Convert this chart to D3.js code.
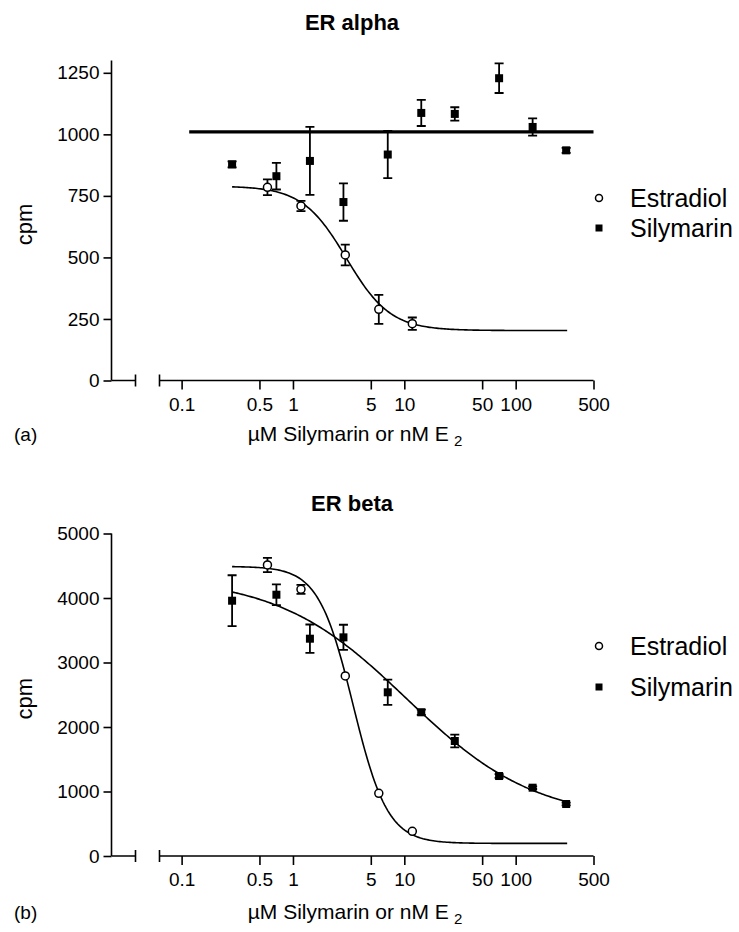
<!DOCTYPE html>
<html>
<head>
<meta charset="utf-8">
<script src="https://cdn.jsdelivr.net/npm/d3@7"></script>
<style>
  html, body { margin: 0; padding: 0; background: #fff; }
  svg { display: block; font-family: "Liberation Sans", Arial, sans-serif; }
</style>
</head>
<body>
<svg id="chart" width="739" height="932"></svg>
<script>
// ---------- shared axis data ----------
const xTickValues = [0.1, 0.5, 1, 5, 10, 50, 100, 500];
const xTickLabels = ["0.1", "0.5", "1", "5", "10", "50", "100", "500"];
const legendLabels = ["Estradiol", "Silymarin"];

// ---------- ER alpha (a) ----------
const alphaTitle = "ER alpha";
const alphaYTicks = [0, 250, 500, 750, 1000, 1250];
const alphaEstradiolX = [0.59, 1.18, 2.95, 5.9, 11.8];
const alphaEstradiolY = [785, 709, 510, 289, 231];
const alphaEstradiolErr = [32, 21, 42, 59, 25];
const alphaSilymarinX = [0.284, 0.71, 1.42, 2.84, 7.1, 14.2, 28.4, 71, 142, 284];
const alphaSilymarinY = [878, 830, 892, 725, 918, 1087, 1083, 1228, 1030, 935];
const alphaSilymarinErr = [12, 54, 138, 76, 96, 53, 27, 60, 35, 10];
// fitted curve parameters: [top, bottom, logEC50, hill]
const alphaEstradiolFit = [790, 203, 0.48, 2.2];
// silymarin: constant fitted line [value, xFrom, xTo]
const alphaSilymarinLine = [1010, 0.117, 500];

// ---------- ER beta (b) ----------
const betaTitle = "ER beta";
const betaYTicks = [0, 1000, 2000, 3000, 4000, 5000];
const betaEstradiolX = [0.59, 1.18, 2.95, 5.9, 11.8];
const betaEstradiolY = [4512, 4134, 2791, 972, 383];
const betaEstradiolErr = [110, 70, 0, 0, 0];
const betaSilymarinX = [0.284, 0.71, 1.42, 2.84, 7.1, 14.2, 28.4, 71, 142, 284];
const betaSilymarinY = [3958, 4051, 3369, 3390, 2538, 2228, 1783, 1240, 1059, 806];
const betaSilymarinErr = [395, 160, 220, 195, 195, 40, 100, 30, 20, 20];
const betaEstradiolFit = [4490, 195, 0.54, 2.8];
const betaSilymarinFit = [4330, 550, 1.02, 0.75];

const fitRange = [0.284, 290];

const svg = d3.select("#chart");

function logistic(p, x) {
  const [top, bottom, logc, h] = p;
  return bottom + (top - bottom) / (1 + Math.pow(10, (Math.log10(x) - logc) * h));
}

function drawPanel(cfg) {
  const g = svg.append("g");
  const axisX = 111.5;
  const breakEnd = 135.5;
  const logStart = 159.5;
  const x = d3.scaleLog().domain([0.0633, 500]).range([logStart, 593.5]);
  const y = d3.scaleLinear().domain([0, cfg.yMax]).range([cfg.y0, cfg.yTop]);

  // title
  g.append("text").attr("x", 352).attr("y", cfg.titleY)
    .attr("text-anchor", "middle").attr("font-weight", "bold")
    .attr("font-size", 22).text(cfg.title);

  // y axis
  const yAxis = d3.axisLeft(y).tickValues(cfg.yTicks).tickSize(8).tickPadding(4)
    .tickFormat(d3.format("d"));
  const ya = g.append("g").attr("transform", `translate(${axisX},0)`).call(yAxis);
  ya.select(".domain").attr("d", `M0,${y(cfg.yMax)}V${cfg.y0}`);
  ya.selectAll("line, path").attr("stroke", "#000").attr("stroke-width", 1.6);
  ya.selectAll("text").attr("font-size", 19).attr("font-family", "Liberation Sans, Arial, sans-serif").attr("fill", "#000");

  // x axis: short left segment (break)
  g.append("path").attr("d", `M${axisX},${cfg.y0}H${breakEnd}M${breakEnd},${cfg.y0 - 6}V${cfg.y0 + 6}`)
    .attr("stroke", "#000").attr("stroke-width", 1.6).attr("fill", "none");
  // x axis: log part
  const xAxis = d3.axisBottom(x).tickValues(xTickValues).tickSize(9).tickPadding(8)
    .tickFormat((d, i) => xTickLabels[i]);
  const xa = g.append("g").attr("transform", `translate(0,${cfg.y0})`).call(xAxis);
  xa.select(".domain").attr("d", `M${logStart},0H${x(500)}M${logStart},-6V6`);
  xa.selectAll("line, path").attr("stroke", "#000").attr("stroke-width", 1.6);
  xa.selectAll("text").attr("font-size", 19).attr("font-family", "Liberation Sans, Arial, sans-serif").attr("fill", "#000");

  // y label
  g.append("text").attr("transform", `translate(32,${(cfg.y0 + cfg.yTop) / 2 + 4}) rotate(-90)`)
    .attr("text-anchor", "middle").attr("font-size", 22).text("cpm");

  // x label
  const xl = g.append("text").attr("x", 355).attr("y", cfg.y0 + cfg.xlabDy)
    .attr("text-anchor", "middle").attr("font-size", 21);
  xl.append("tspan").text("µM Silymarin or nM E");
  xl.append("tspan").attr("dx", 5).attr("dy", 5).attr("font-size", 15).text("2");

  g.append("text").attr("x", 14).attr("y", cfg.y0 + cfg.xlabDy).attr("font-size", 19).text(cfg.panel);

  const curveGen = d3.line().x(d => x(d[0])).y(d => y(d[1]));

  // fitted curves
  cfg.fits.forEach(f => {
    if (f.type === "const") {
      g.append("path").attr("d", curveGen([[f.p[1], f.p[0]], [f.p[2], f.p[0]]]))
        .attr("stroke", "#000").attr("stroke-width", 3.2).attr("fill", "none");
    } else {
      const xs = d3.range(0, 201).map(i => fitRange[0] * Math.pow(fitRange[1] / fitRange[0], i / 200));
      g.append("path").attr("d", curveGen(xs.map(v => [v, logistic(f.p, v)])))
        .attr("stroke", "#000").attr("stroke-width", 1.6).attr("fill", "none");
    }
  });

  // error bars + points
  cfg.series.forEach(s => {
    s.x.forEach((xv, i) => {
      const e = s.err[i];
      if (e > 0) {
        const cx = x(xv), t = y(s.y[i] + e), b = y(s.y[i] - e);
        g.append("path").attr("d", `M${cx},${t}V${b}M${cx - 4.5},${t}H${cx + 4.5}M${cx - 4.5},${b}H${cx + 4.5}`)
          .attr("stroke", "#000").attr("stroke-width", 1.8).attr("fill", "none");
      }
    });
    s.x.forEach((xv, i) => {
      const cx = x(xv), cy = y(s.y[i]);
      if (s.shape === "circle") {
        g.append("circle").attr("cx", cx).attr("cy", cy).attr("r", 4)
          .attr("fill", "#fff").attr("stroke", "#000").attr("stroke-width", 1.5);
      } else {
        g.append("rect").attr("x", cx - 4).attr("y", cy - 4).attr("width", 8).attr("height", 8)
          .attr("fill", "#000");
      }
    });
  });

  // legend
  const ly = cfg.legendY;
  g.append("circle").attr("cx", 599).attr("cy", ly).attr("r", 3.5)
    .attr("fill", "#fff").attr("stroke", "#000").attr("stroke-width", 1.5);
  g.append("text").attr("x", 630).attr("y", ly + 9).attr("font-size", 25).text(legendLabels[0]);
  g.append("rect").attr("x", 595.5).attr("y", ly + cfg.legendGap - 3.5).attr("width", 7).attr("height", 7).attr("fill", "#000");
  g.append("text").attr("x", 630).attr("y", ly + cfg.legendGap + 9).attr("font-size", 25).text(legendLabels[1]);
}

drawPanel({
  title: alphaTitle, titleY: 30, panel: "(a)", xlabDy: 60,
  yMax: 1300, y0: 380.5, yTop: 60.5, yTicks: alphaYTicks,
  legendY: 198, legendGap: 30,
  fits: [
    { type: "logistic", p: alphaEstradiolFit },
    { type: "const", p: alphaSilymarinLine }
  ],
  series: [
    { shape: "circle", x: alphaEstradiolX, y: alphaEstradiolY, err: alphaEstradiolErr },
    { shape: "square", x: alphaSilymarinX, y: alphaSilymarinY, err: alphaSilymarinErr }
  ]
});

drawPanel({
  title: betaTitle, titleY: 511, panel: "(b)", xlabDy: 63,
  yMax: 5000, y0: 856, yTop: 533.5, yTicks: betaYTicks,
  legendY: 646, legendGap: 41,
  fits: [
    { type: "logistic", p: betaEstradiolFit },
    { type: "logistic", p: betaSilymarinFit }
  ],
  series: [
    { shape: "circle", x: betaEstradiolX, y: betaEstradiolY, err: betaEstradiolErr },
    { shape: "square", x: betaSilymarinX, y: betaSilymarinY, err: betaSilymarinErr }
  ]
});
</script>
</body>
</html>
